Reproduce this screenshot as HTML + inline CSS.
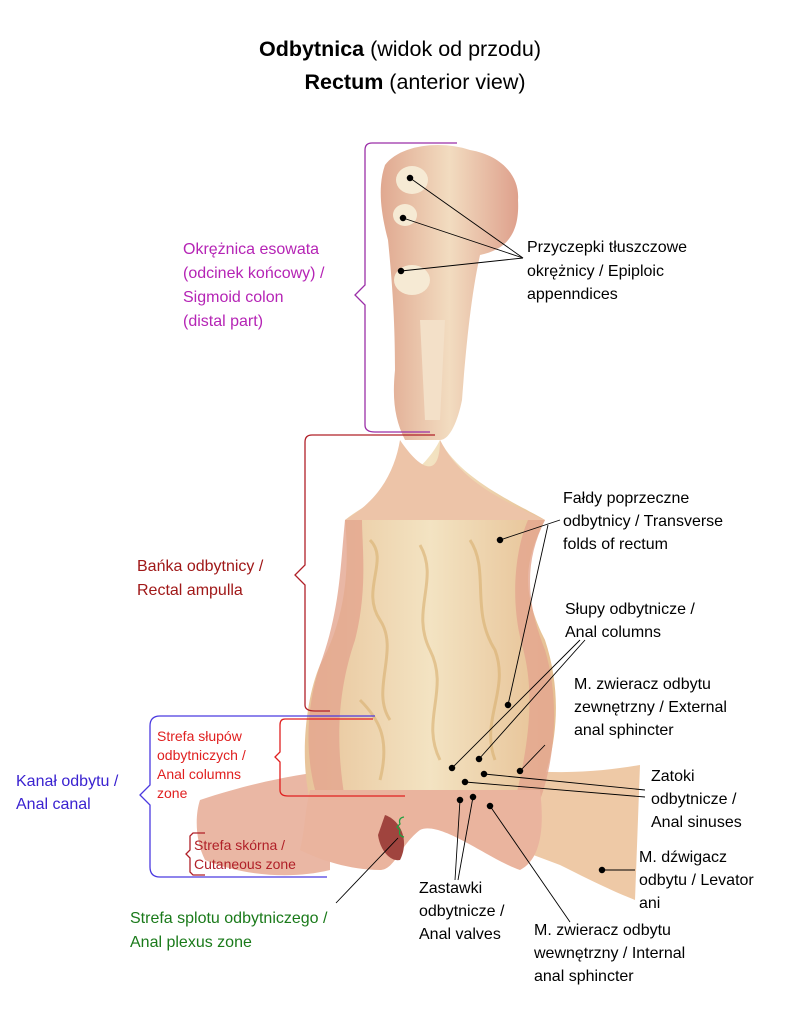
<!DOCTYPE html>
<html><head><meta charset="utf-8"><style>
html,body{margin:0;padding:0;background:#fff;}
svg{display:block;font-family:"Liberation Sans",sans-serif;}
</style></head><body>
<svg width="792" height="1024" viewBox="0 0 792 1024" xmlns="http://www.w3.org/2000/svg">
<defs>
<linearGradient id="g1" x1="0" x2="1"><stop offset="0" stop-color="#e0a890"/><stop offset="0.5" stop-color="#f2dcc0"/><stop offset="1" stop-color="#dea08c"/></linearGradient>
<linearGradient id="g2" x1="0" x2="1"><stop offset="0" stop-color="#e8c49a"/><stop offset="0.5" stop-color="#f3e3c2"/><stop offset="1" stop-color="#e6bf92"/></linearGradient>
</defs>
<text x="400" y="56" text-anchor="middle" font-size="21.5"><tspan font-weight="bold">Odbytnica</tspan> (widok od przodu)</text>
<text x="415" y="89" text-anchor="middle" font-size="21.5"><tspan font-weight="bold">Rectum</tspan> (anterior view)</text>

<!-- levator wings -->
<path d="M200 800 C260 780 300 775 330 770 L330 870 C290 880 240 875 205 860 C195 840 195 815 200 800Z" fill="#eab7a4"/>
<path d="M520 770 C570 775 610 770 640 765 L635 900 C610 890 590 880 560 865 L520 850Z" fill="#eec9a6"/>
<!-- ampulla -->
<path d="M345 520 C370 500 420 480 440 440 C460 480 520 505 545 520 C525 560 520 590 545 640 C565 700 555 760 535 800 L310 800 C300 760 305 700 320 665 C345 620 350 570 345 520Z" fill="url(#g2)"/>
<path d="M345 520 C340 570 340 610 320 665 C305 710 305 760 318 800 L345 800 C335 740 338 690 355 640 C368 590 362 545 362 520Z" fill="#e3a58f" opacity="0.8"/>
<path d="M545 520 C525 560 525 600 545 650 C560 700 555 760 540 800 L515 800 C530 740 535 690 522 645 C510 600 515 550 528 520Z" fill="#e3a58f" opacity="0.8"/>
<path d="M400 440 C420 470 440 480 440 440 C460 480 500 500 545 520 L345 520 C380 500 395 470 400 440Z" fill="#edc4a8"/>
<g fill="none" stroke="#d9b070" stroke-width="3" opacity="0.6">
<path d="M370 540 C390 560 360 590 380 620 C400 650 370 690 390 720"/>
<path d="M420 545 C440 580 410 610 430 650 C450 690 420 720 440 760"/>
<path d="M470 540 C490 570 470 610 495 650 C510 690 480 720 495 760"/>
<path d="M360 700 C380 720 390 740 380 780"/>
</g>
<!-- anal canal -->
<path d="M310 790 L540 790 C545 830 540 860 520 870 C490 860 440 820 420 830 C400 845 395 870 380 870 C350 870 320 860 300 850 C305 830 305 810 310 790Z" fill="#eab49e"/>
<path d="M385 815 C400 820 410 840 400 860 C390 862 380 850 378 835Z" fill="#a0443e"/>
<!-- sigmoid -->
<path d="M385 165 C400 145 440 140 470 150 C500 155 520 175 518 200 C520 235 505 250 480 255 C470 300 465 360 462 400 C458 420 450 440 440 440 L405 440 C395 420 392 400 395 370 C395 320 392 280 388 240 C380 210 378 185 385 165Z" fill="url(#g1)"/>
<ellipse cx="412" cy="180" rx="16" ry="14" fill="#f6ead4"/>
<ellipse cx="405" cy="215" rx="12" ry="11" fill="#f6ead4"/>
<ellipse cx="412" cy="280" rx="18" ry="15" fill="#f6ead4"/>
<path d="M420 320 L445 320 L440 420 L425 420Z" fill="#f3e0c8"/>

<!-- brackets -->
<g fill="none" stroke-width="1.3">
<path d="M457 143 L372 143 Q365 143 365 150 L365 285 L355 295 L365 305 L365 425 Q365 432 375 432 L430 432" stroke="#9b2fa8"/>
<path d="M435 435 L312 435 Q305 435 305 442 L305 565 L295 575 L305 585 L305 705 Q305 711 315 711 L330 711" stroke="#b02028"/>
<path d="M375 716 L160 716 Q150 716 150 726 L150 785 L140 795 L150 805 L150 867 Q150 877 160 877 L327 877" stroke="#4b3ae0"/>
<path d="M373 719 L285 719 Q280 719 280 725 L280 752 L275 757 L280 762 L280 790 Q280 796 288 796 L405 796" stroke="#e02020"/>
<path d="M205 833 L193 833 L190 836 L190 850 L186 854 L190 858 L190 872 L193 875 L205 875" stroke="#b02028"/>
<path d="M404 817 Q398 818 400 824 L397 827 L400 830 Q398 836 404 837" stroke="#20a040"/>
</g>

<!-- leader lines -->
<g stroke="#000" stroke-width="0.9" fill="#000">
<line x1="410" y1="178" x2="523" y2="258"/><line x1="403" y1="218" x2="523" y2="258"/><line x1="401" y1="271" x2="523" y2="258"/>
<circle cx="410" cy="178" r="2.8"/><circle cx="403" cy="218" r="2.8"/><circle cx="401" cy="271" r="2.8"/>
<line x1="500" y1="540" x2="560" y2="520"/><circle cx="500" cy="540" r="2.8"/>
<line x1="508" y1="705" x2="548" y2="525"/><circle cx="508" cy="705" r="2.8"/>
<line x1="452" y1="768" x2="580" y2="640"/><circle cx="452" cy="768" r="2.8"/>
<line x1="479" y1="759" x2="585" y2="640"/><circle cx="479" cy="759" r="2.8"/>
<line x1="520" y1="771" x2="545" y2="745"/><circle cx="520" cy="771" r="2.8"/>
<line x1="484" y1="774" x2="645" y2="790"/><circle cx="484" cy="774" r="2.8"/>
<line x1="465" y1="782" x2="645" y2="797"/><circle cx="465" cy="782" r="2.8"/>
<line x1="460" y1="800" x2="455" y2="880"/><line x1="473" y1="797" x2="458" y2="880"/>
<circle cx="460" cy="800" r="2.8"/><circle cx="473" cy="797" r="2.8"/>
<line x1="490" y1="806" x2="570" y2="922"/><circle cx="490" cy="806" r="2.8"/>
<line x1="602" y1="870" x2="635" y2="870"/><circle cx="602" cy="870" r="2.8"/>
<line x1="398" y1="838" x2="336" y2="903"/>
</g>

<!-- labels -->
<g font-size="16">
<text fill="#b524b5"><tspan x="183" y="254">Okrężnica esowata</tspan><tspan x="183" y="278">(odcinek końcowy) /</tspan><tspan x="183" y="302">Sigmoid colon</tspan><tspan x="183" y="326">(distal part)</tspan></text>
<text fill="#000"><tspan x="527" y="252">Przyczepki tłuszczowe</tspan><tspan x="527" y="276">okrężnicy / Epiploic</tspan><tspan x="527" y="299">appenndices</tspan></text>
<text fill="#a01818"><tspan x="137" y="571">Bańka odbytnicy /</tspan><tspan x="137" y="595">Rectal ampulla</tspan></text>
<text fill="#000"><tspan x="563" y="503">Fałdy poprzeczne</tspan><tspan x="563" y="526">odbytnicy / Transverse</tspan><tspan x="563" y="549">folds of rectum</tspan></text>
<text fill="#000"><tspan x="565" y="614">Słupy odbytnicze /</tspan><tspan x="565" y="637">Anal columns</tspan></text>
<text fill="#000"><tspan x="574" y="689">M. zwieracz odbytu</tspan><tspan x="574" y="712">zewnętrzny / External</tspan><tspan x="574" y="735">anal sphincter</tspan></text>
<text fill="#000"><tspan x="651" y="781">Zatoki</tspan><tspan x="651" y="804">odbytnicze /</tspan><tspan x="651" y="827">Anal sinuses</tspan></text>
<text fill="#000"><tspan x="639" y="862">M. dźwigacz</tspan><tspan x="639" y="885">odbytu / Levator</tspan><tspan x="639" y="908">ani</tspan></text>
<text fill="#3a22d0"><tspan x="16" y="786">Kanał odbytu /</tspan><tspan x="16" y="809">Anal canal</tspan></text>
<text fill="#000"><tspan x="419" y="893">Zastawki</tspan><tspan x="419" y="916">odbytnicze /</tspan><tspan x="419" y="939">Anal valves</tspan></text>
<text fill="#000"><tspan x="534" y="935">M. zwieracz odbytu</tspan><tspan x="534" y="958">wewnętrzny / Internal</tspan><tspan x="534" y="981">anal sphincter</tspan></text>
<text fill="#1a7a1a"><tspan x="130" y="923">Strefa splotu odbytniczego /</tspan><tspan x="130" y="947">Anal plexus zone</tspan></text>
</g>
<g font-size="14">
<text fill="#e02020"><tspan x="157" y="741">Strefa słupów</tspan><tspan x="157" y="760">odbytniczych /</tspan><tspan x="157" y="779">Anal columns</tspan><tspan x="157" y="798">zone</tspan></text>
<text fill="#b02028"><tspan x="194" y="850">Strefa skórna /</tspan><tspan x="194" y="869">Cutaneous zone</tspan></text>
</g>
</svg>
</body></html>
